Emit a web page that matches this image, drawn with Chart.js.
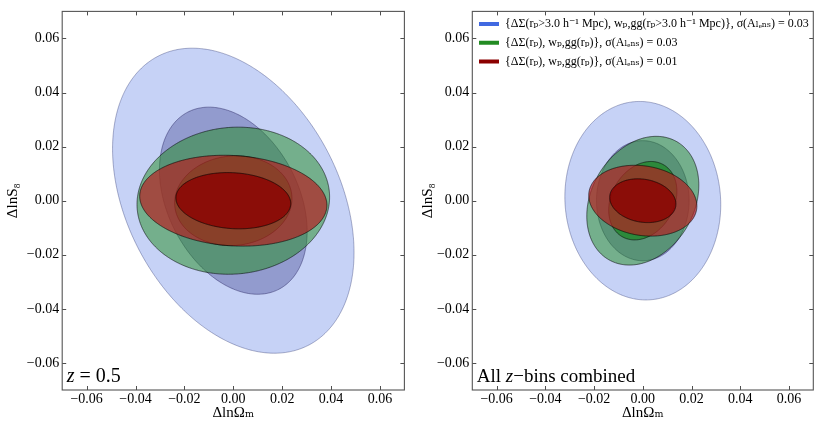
<!DOCTYPE html>
<html><head><meta charset="utf-8">
<script src="https://cdn.jsdelivr.net/npm/chart.js@4.4.0/dist/chart.umd.min.js"></script>
<style>
html,body{margin:0;padding:0;background:#fff;}
#wrap{position:relative;width:830px;height:425px;overflow:hidden;}
canvas{position:absolute;top:0;}
</style></head><body>
<div id="wrap">
<canvas id="c1" width="415" height="425" style="left:0;width:415px;height:425px"></canvas>
<canvas id="c2" width="415" height="425" style="left:415px;width:415px;height:425px"></canvas>
</div>
<script>
// ---------------- data ----------------
const tickValues = [-0.06, -0.04, -0.02, 0.00, 0.02, 0.04, 0.06];
const axisRange = [-0.07, 0.07];
const xTitle = 'ΔlnΩₘ';
const yTitle = 'ΔlnS₈';
const seriesNames = [
  '{ΔΣ(rₚ>3.0 h⁻¹ Mpc), wₚ,gg(rₚ>3.0 h⁻¹ Mpc)}, σ(Aₗₑₙₛ) = 0.03',
  '{ΔΣ(rₚ), wₚ,gg(rₚ)}, σ(Aₗₑₙₛ) = 0.03',
  '{ΔΣ(rₚ), wₚ,gg(rₚ)}, σ(Aₗₑₙₛ) = 0.01'
];
const contourLevels = ['2σ', '1σ'];
// order of contours: blue 2σ, blue 1σ, green 2σ, green 1σ, red 2σ, red 1σ
// left panel (z = 0.5): half-extent in ΔlnΩm, half-extent in ΔlnS8, correlation
const z05HalfX = [0.0494, 0.0302, 0.0394, 0.0240, 0.0383, 0.0235];
const z05HalfY = [0.0564, 0.0346, 0.0272, 0.0166, 0.0168, 0.0104];
const z05Rho   = [-0.34, -0.33, 0.05, 0.05, -0.10, -0.10];
// right panel (all z-bins combined)
const allHalfX = [0.0320, 0.0190, 0.0230, 0.0140, 0.0222, 0.0136];
const allHalfY = [0.0367, 0.0222, 0.0238, 0.0145, 0.0131, 0.0081];
const allRho   = [-0.04, 0.00, 0.24, 0.24, -0.15, -0.15];
const panelLabels = [
  [{t:'z', it:true}, {t:' = 0.5', it:false}],
  [{t:'All ', it:false}, {t:'z', it:true}, {t:'−bins combined', it:false}]
];

// ---------------- styles ----------------
const seriesColors = ['#4169e1', '#228b22', '#8b0000'];
const contourFills = ['rgba(65,105,225,0.30)', 'rgba(25,25,112,0.30)',
                      'rgba(34,139,34,0.50)', 'rgba(0,128,0,0.50)',
                      'rgba(178,34,34,0.70)', 'rgba(139,0,0,0.80)'];
const contourEdges = ['rgba(30,40,100,0.45)', 'rgba(20,20,80,0.55)',
                      'rgba(0,0,0,0.70)', 'rgba(0,0,0,0.70)',
                      'rgba(0,0,0,0.75)', 'rgba(0,0,0,0.80)'];
const SERIF = "'Liberation Serif', 'DejaVu Serif', serif";

function contour(ax, ay, rho) {
  const pts = [];
  const n = 240, s = Math.sqrt(1 - rho * rho);
  for (let k = 0; k <= n; k++) {
    const t = 2 * Math.PI * k / n;
    pts.push({x: ax * Math.cos(t), y: ay * (rho * Math.cos(t) + s * Math.sin(t))});
  }
  return pts;
}

function buildDatasets(hx, hy, rho) {
  return hx.map((ax, k) => ({
    label: seriesNames[Math.floor(k / 2)] + ' ' + contourLevels[k % 2],
    data: contour(ax, hy[k], rho[k]),
    backgroundColor: contourFills[k],
    borderColor: contourEdges[k],
    borderWidth: 0.8,
    pointRadius: 0,
    tension: 0.01,
    fill: 'shape',
    order: 10 - k
  }));
}

const framePlugin = {
  id: 'frame',
  afterDatasetsDraw(chart, args, opts) {
    const {ctx, chartArea: a, scales: {x, y}} = chart;
    ctx.save();
    ctx.strokeStyle = '#3a3a3a';
    ctx.lineWidth = 0.9;
    ctx.beginPath();
    x.ticks.forEach(t => {
      const p = Math.round(x.getPixelForValue(t.value)) + 0.5;
      ctx.moveTo(p, a.bottom); ctx.lineTo(p, a.bottom - 4);
      ctx.moveTo(p, a.top); ctx.lineTo(p, a.top + 4);
    });
    y.ticks.forEach(t => {
      const p = Math.round(y.getPixelForValue(t.value)) + 0.5;
      ctx.moveTo(a.left, p); ctx.lineTo(a.left + 4, p);
      ctx.moveTo(a.right, p); ctx.lineTo(a.right - 4, p);
    });
    ctx.stroke();
    ctx.lineWidth = 1.1;
    ctx.strokeStyle = '#555';
    ctx.strokeRect(a.left, a.top, a.right - a.left, a.bottom - a.top);
    // panel label
    let px = a.left + 4.5;
    const py = a.bottom - 13;
    ctx.fillStyle = '#000';
    ctx.textBaseline = 'middle';
    (opts.segments || []).forEach(s => {
      ctx.font = (s.it ? 'italic ' : '') + opts.size + 'px ' + SERIF;
      ctx.fillText(s.t, px, py);
      px += ctx.measureText(s.t).width;
    });
    ctx.restore();
  }
};

function tickLabel(v) {
  const s = Math.abs(v) < 1e-9 ? '0.00' : Math.abs(v).toFixed(2);
  return v < -1e-9 ? '−' + s : s;
}

function makeChart(id, datasets, yWidth, padRight, segments, labelSize, showLegend) {
  const axisCommon = {
    type: 'linear', min: axisRange[0], max: axisRange[1],
    afterBuildTicks: sc => { sc.ticks = tickValues.map(v => ({value: v})); },
    grid: {display: false, drawTicks: false},
    border: {display: false},
  };
  return new Chart(document.getElementById(id), {
    type: 'line',
    data: {datasets},
    options: {
      responsive: false, animation: false, events: [],
      layout: {padding: {top: 7.7, right: padRight, left: 0, bottom: 0}},
      scales: {
        x: Object.assign({}, axisCommon, {
          position: 'bottom',
          afterFit: sc => { sc.height = 35; },
          ticks: {padding: 1, color: '#000', font: {family: SERIF, size: 14}, maxRotation: 0, callback: v => tickLabel(v)},
          title: {display: true, text: xTitle, color: '#000', font: {family: SERIF, size: 15}, padding: {top: 0, bottom: 3}}
        }),
        y: Object.assign({}, axisCommon, {
          position: 'left',
          afterFit: sc => { sc.width = yWidth; },
          ticks: {padding: 3, color: '#000', font: {family: SERIF, size: 14}, callback: v => tickLabel(v)},
          title: {display: true, text: yTitle, color: '#000', font: {family: SERIF, size: 15}, padding: {top: 4, bottom: 0}}
        })
      },
      plugins: {
        tooltip: {enabled: false},
        frame: {segments, size: labelSize},
        legend: showLegend ? {
          display: true, position: 'chartArea', align: 'start',
          onClick: null,
          title: {display: true, text: ' ', font: {size: 8}, padding: {top: 1.7, bottom: 0}},
          labels: {
            boxWidth: 20, boxHeight: 4, padding: 6.7, color: '#000',
            font: {family: SERIF, size: 12},
            generateLabels: () => seriesNames.map((t, i) => ({
              text: t, fillStyle: seriesColors[i], strokeStyle: seriesColors[i],
              fontColor: '#000', lineWidth: 0, hidden: false, datasetIndex: i * 2
            }))
          }
        } : {display: false}
      }
    },
    plugins: [framePlugin]
  });
}

makeChart('c1', buildDatasets(z05HalfX, z05HalfY, z05Rho), 62.2, 10.6, panelLabels[0], 20, false);
makeChart('c2', buildDatasets(allHalfX, allHalfY, allRho), 57.3, 16.7, panelLabels[1], 19, true);
</script>
</body></html>
